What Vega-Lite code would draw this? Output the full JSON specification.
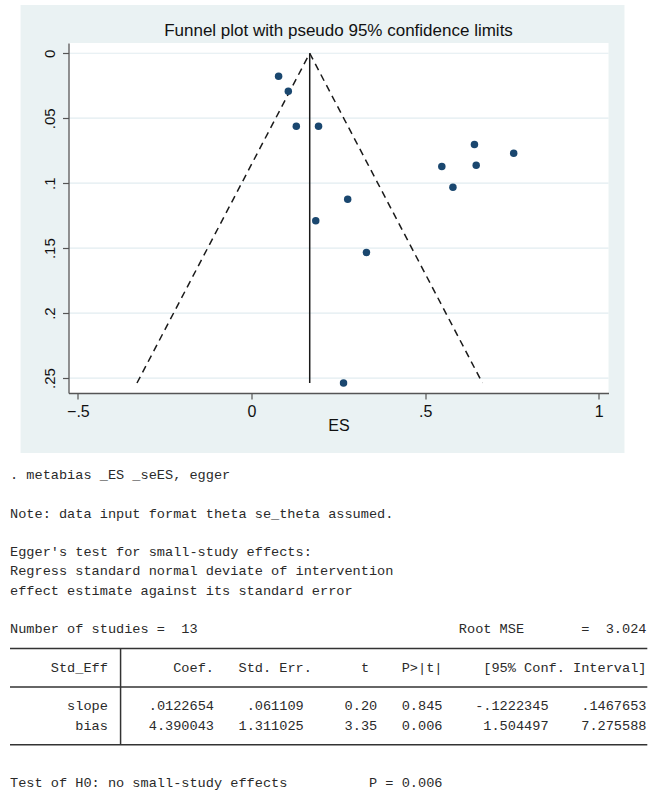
{
  "$schema": "https://vega.github.io/schema/vega-lite/v6.json",
  "background": "white",
  "padding": {"left": 8.5, "top": 4, "right": 0, "bottom": 0},
  "autosize": {"type": "pad"},
  "spacing": 0,
  "config": {
    "view": {"stroke": null},
    "font": "Liberation Sans"
  },
  "datasets": {
    "points": [
      {"ES": 0.078, "seES": 0.0177},
      {"ES": 0.106, "seES": 0.0292},
      {"ES": 0.129, "seES": 0.0562},
      {"ES": 0.193, "seES": 0.0562},
      {"ES": 0.185, "seES": 0.129},
      {"ES": 0.642, "seES": 0.0702},
      {"ES": 0.755, "seES": 0.0769},
      {"ES": 0.548, "seES": 0.0872},
      {"ES": 0.647, "seES": 0.0862},
      {"ES": 0.58, "seES": 0.1031},
      {"ES": 0.277, "seES": 0.1123},
      {"ES": 0.331, "seES": 0.1533},
      {"ES": 0.265, "seES": 0.2538}
    ],
    "funnel": [
      {"se": 0, "lo": 0.1676, "mid": 0.1676, "hi": 0.1676},
      {"se": 0.2538, "lo": -0.3298, "mid": 0.1676, "hi": 0.665}
    ],
    "grid": [{"v": 0}, {"v": 0.05}, {"v": 0.1}, {"v": 0.15}, {"v": 0.2}, {"v": 0.25}],
    "lines": [
      {"line": 0, "col": 0, "t": ". metabias _ES _seES, egger"},
      {"line": 2, "col": 0, "t": "Note: data input format theta se_theta assumed."},
      {"line": 4, "col": 0, "t": "Egger's test for small-study effects:"},
      {"line": 5, "col": 0, "t": "Regress standard normal deviate of intervention"},
      {"line": 6, "col": 0, "t": "effect estimate against its standard error"},
      {"line": 8, "col": 0, "t": "Number of studies ="},
      {"line": 8, "col": 21, "t": "13"},
      {"line": 8, "col": 55, "t": "Root MSE"},
      {"line": 8, "col": 70, "t": "="},
      {"line": 8, "col": 73, "t": "3.024"},
      {"line": 10, "col": 5, "t": "Std_Eff"},
      {"line": 10, "col": 20, "t": "Coef."},
      {"line": 10, "col": 28, "t": "Std. Err."},
      {"line": 10, "col": 43, "t": "t"},
      {"line": 10, "col": 48, "t": "P>|t|"},
      {"line": 10, "col": 58, "t": "[95% Conf. Interval]"},
      {"line": 12, "col": 7, "t": "slope"},
      {"line": 12, "col": 17, "t": ".0122654"},
      {"line": 12, "col": 29, "t": ".061109"},
      {"line": 12, "col": 41, "t": "0.20"},
      {"line": 12, "col": 48, "t": "0.845"},
      {"line": 12, "col": 57, "t": "-.1222345"},
      {"line": 12, "col": 70, "t": ".1467653"},
      {"line": 13, "col": 8, "t": "bias"},
      {"line": 13, "col": 17, "t": "4.390043"},
      {"line": 13, "col": 28, "t": "1.311025"},
      {"line": 13, "col": 41, "t": "3.35"},
      {"line": 13, "col": 48, "t": "0.006"},
      {"line": 13, "col": 58, "t": "1.504497"},
      {"line": 13, "col": 70, "t": "7.275588"},
      {"line": 16, "col": 0, "t": "Test of H0: no small-study effects"},
      {"line": 16, "col": 44, "t": "P = 0.006"}
    ],
    "hrules": [
      {"line": 9, "c0": 0, "c1": 78.1},
      {"line": 11, "c0": 0, "c1": 78.1},
      {"line": 14, "c0": 0, "c1": 78.1}
    ],
    "vrules": [{"col": 13.55, "l0": 9, "l1": 14}]
  },
  "vconcat": [
    {
      "width": 540,
      "height": 350,
      "title": {
        "text": "Funnel plot with pseudo 95% confidence limits",
        "fontSize": 17,
        "font": "Liberation Sans",
        "fontWeight": "normal",
        "color": "#111111",
        "anchor": "middle",
        "frame": "group",
        "offset": -35,
        "zindex": 1
      },
      "layer": [
        {
          "data": {"values": [{}]},
          "mark": {"type": "rect", "fill": "#eaf2f3"},
          "encoding": {
            "x": {
              "datum": -0.665,
              "type": "quantitative",
              "scale": {"domain": [-0.527, 1.028], "nice": false, "zero": false},
              "axis": {
                "values": [-0.5, 0, 0.5, 1],
                "labelExpr": "replace(format(datum.value, '~g'), '0.', '.')",
                "title": "ES",
                "grid": false,
                "tickSize": 6,
                "labelPadding": 4,
                "titlePadding": -2,
                "labelFontSize": 16,
                "titleFontSize": 16,
                "titleFontWeight": "normal",
                "domainColor": "#555555",
                "tickColor": "#555555",
                "domainWidth": 1.3,
                "tickWidth": 1.2,
                "labelColor": "#111111",
                "titleColor": "#111111",
                "labelFont": "Liberation Sans",
                "titleFont": "Liberation Sans",
                "zindex": 1
              }
            },
            "x2": {"datum": 1.074},
            "y": {
              "datum": -0.0372,
              "type": "quantitative",
              "scale": {"domain": [-0.0079, 0.2615], "nice": false, "zero": false, "reverse": true},
              "axis": {
                "values": [0, 0.05, 0.1, 0.15, 0.2, 0.25],
                "labelExpr": "replace(format(datum.value, '~g'), '0.', '.')",
                "title": null,
                "grid": false,
                "tickSize": 6,
                "labelAngle": 270,
                "labelAlign": "center",
                "labelBaseline": "bottom",
                "labelPadding": 5,
                "labelFontSize": 15,
                "domainColor": "#555555",
                "tickColor": "#555555",
                "domainWidth": 1.3,
                "tickWidth": 1.2,
                "labelColor": "#111111",
                "labelFont": "Liberation Sans",
                "zindex": 1
              }
            },
            "y2": {"datum": 0.3077}
          }
        },
        {
          "data": {"values": [{}]},
          "mark": {"type": "rect", "fill": "white"},
          "encoding": {
            "x": {"datum": -0.527, "type": "quantitative"},
            "x2": {"datum": 1.028},
            "y": {"datum": -0.0079, "type": "quantitative"},
            "y2": {"datum": 0.2615}
          }
        },
        {
          "data": {"name": "grid"},
          "mark": {"type": "rule", "stroke": "#e2ecf0", "strokeWidth": 1.2},
          "encoding": {"y": {"field": "v", "type": "quantitative"}}
        },
        {
          "data": {"name": "funnel"},
          "mark": {"type": "line", "stroke": "#1a1a1a", "strokeWidth": 1.5, "strokeDash": [7, 5]},
          "encoding": {
            "x": {"field": "lo", "type": "quantitative"},
            "y": {"field": "se", "type": "quantitative"}
          }
        },
        {
          "data": {"name": "funnel"},
          "mark": {"type": "line", "stroke": "#1a1a1a", "strokeWidth": 1.5, "strokeDash": [7, 5]},
          "encoding": {
            "x": {"field": "hi", "type": "quantitative"},
            "y": {"field": "se", "type": "quantitative"}
          }
        },
        {
          "data": {"name": "funnel"},
          "mark": {"type": "line", "stroke": "#1a1a1a", "strokeWidth": 1.5},
          "encoding": {
            "x": {"field": "mid", "type": "quantitative"},
            "y": {"field": "se", "type": "quantitative"}
          }
        },
        {
          "data": {"name": "points"},
          "mark": {"type": "circle", "fill": "#1a476f", "opacity": 1, "size": 56},
          "encoding": {
            "x": {"field": "ES", "type": "quantitative"},
            "y": {"field": "seES", "type": "quantitative"}
          }
        }
      ]
    },
    {
      "width": 584,
      "height": 339,
      "layer": [
        {
          "data": {"name": "hrules"},
          "mark": {"type": "rule", "stroke": "#333333", "strokeWidth": 1.5},
          "encoding": {
            "x": {
              "field": "c0",
              "type": "quantitative",
              "scale": {"domain": [0, 78], "range": [-58.5, 578], "nice": false, "zero": false},
              "axis": null
            },
            "x2": {"field": "c1"},
            "y": {
              "field": "line",
              "type": "quantitative",
              "scale": {"domain": [-1.1, 16.5], "nice": false, "zero": false, "reverse": true},
              "axis": null
            }
          }
        },
        {
          "data": {"name": "vrules"},
          "mark": {"type": "rule", "stroke": "#333333", "strokeWidth": 1.5},
          "encoding": {
            "x": {"field": "col", "type": "quantitative"},
            "y": {"field": "l0", "type": "quantitative"},
            "y2": {"field": "l1"}
          }
        },
        {
          "data": {"name": "lines"},
          "mark": {
            "type": "text",
            "align": "left",
            "baseline": "middle",
            "font": "Liberation Mono",
            "fontSize": 13.6,
            "fill": "#2a2a2a"
          },
          "encoding": {
            "x": {"field": "col", "type": "quantitative"},
            "y": {"field": "line", "type": "quantitative"},
            "text": {"field": "t"}
          }
        }
      ]
    }
  ]
}
